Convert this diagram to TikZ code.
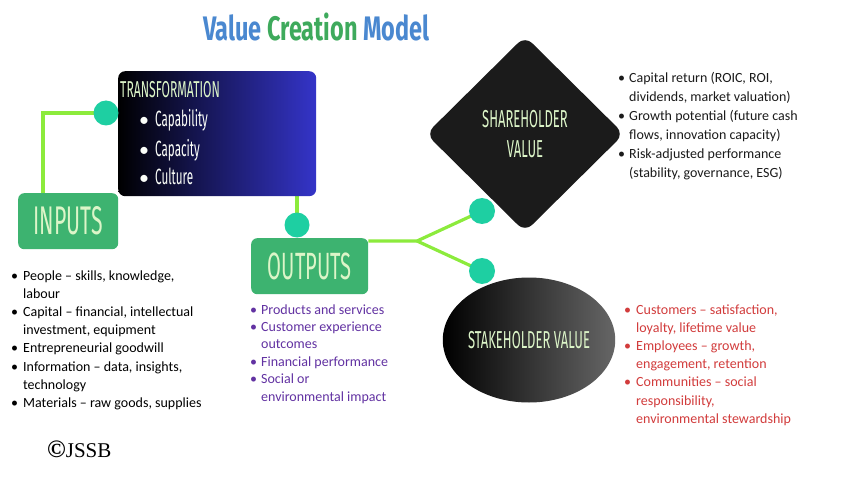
\documentclass[tikz,border=0pt]{standalone}
\usepackage{fontspec}
\setmainfont{Carlito}
\newfontfamily\dispfont[FakeStretch=0.53]{Fira Sans}
\newfontfamily\titlefont[FakeStretch=0.69]{Fira Sans}
\newfontfamily\copyfont{Liberation Serif}
\usetikzlibrary{shapes.geometric,backgrounds}
\definecolor{lnk}{HTML}{8CEB3C}
\definecolor{dot}{HTML}{1ECFA2}
\definecolor{gbox}{HTML}{3DB370}
\definecolor{ltxt}{HTML}{DCF5C8}
\definecolor{tblue}{HTML}{4A88D0}
\definecolor{tgreen}{HTML}{3EAA5C}
\definecolor{tright}{HTML}{3434C8}
\definecolor{dia}{HTML}{1B1B1B}
\definecolor{purp}{HTML}{6232A2}
\definecolor{redt}{HTML}{D23C3C}
\newlength{\bw}
\newcommand{\bu}{\makebox[\bw][l]{\textbullet}}
\newcommand{\ind}{\hspace*{\bw}}
\newcommand{\tbul}{\makebox[16pt][l]{{\normalfont\fontsize{20}{20}\selectfont\textbullet}}}
\tikzset{
  greenbox/.style={draw=none, fill=gbox, rounded corners=6pt, inner sep=0pt, text=ltxt},
  joint/.style={circle, fill=dot, inner sep=0pt, minimum size=25pt},
  link/.style={draw=lnk, line width=3.2pt},
  listtxt/.style={anchor=base west, inner sep=0pt, align=left},
  tbitem/.style={anchor=base west, inner sep=0pt, text=white!90!ltxt, font=\dispfont\fontsize{22}{22}\selectfont},
}
\begin{document}
\begin{tikzpicture}[x=1pt,y=-1pt]
\useasboundingbox (0,0) rectangle (860,484);

% title
\node[anchor=base west, inner sep=0pt, font=\titlefont\bfseries\fontsize{34}{34}\selectfont] (title) at (203,41)
  {\textcolor{tblue}{Value} \textcolor{tgreen}{Creation} \textcolor{tblue}{Model}};

% transformation box
\node[rounded corners=7pt, left color=black, right color=tright, minimum width=198pt, minimum height=125pt,
      inner sep=0pt, anchor=north west] (trans) at (118,71) {};
\node[anchor=base west, inner sep=0pt, text=ltxt, font=\dispfont\fontsize{23}{23}\selectfont] (transt) at (120,98) {TRANSFORMATION};
\node[tbitem] (tb1) at (139,127) {\tbul Capability};
\node[tbitem] (tb2) at (139,157) {\tbul Capacity};
\node[tbitem] (tb3) at (139,185) {\tbul Culture};

% inputs / outputs boxes
\node[greenbox, minimum width=100pt, minimum height=56pt, anchor=north west, font=\dispfont\fontsize{40}{40}\selectfont] (inputs) at (18,193) {INPUTS};
\node[greenbox, minimum width=117pt, minimum height=56pt, anchor=north west, font=\dispfont\fontsize{38}{38}\selectfont] (outputs) at (251,238) {OUTPUTS};

% shareholder diamond
\node[diamond, fill=dia, rounded corners=10pt, minimum width=198pt, minimum height=196pt, inner sep=0pt,
      text=ltxt, align=center, font=\dispfont\fontsize{24.5}{30}\selectfont] (share) at (525,134) {SHAREHOLDER\\VALUE};

% stakeholder ellipse
\node[ellipse, left color=black, right color=black!60, minimum width=162pt, minimum height=125pt, inner sep=0pt,
      text=ltxt, font=\dispfont\fontsize{24.5}{24.5}\selectfont] (stake) at (529,340) {STAKEHOLDER VALUE};

% joints
\node[joint] (c1) at (106,113) {};
\node[joint] (c2) at (297,225) {};
\node[joint, minimum size=26pt] (c3) at (482,211) {};
\node[joint, minimum size=26pt] (c4) at (482,271) {};
\coordinate (jn) at (417,241);

\begin{scope}[on background layer]
  \fill[white] (0,0) rectangle (860,484);
  \draw[link] (c1.center) -| ([xshift=25pt]inputs.north west);
  \draw[link] (trans.south -| c2) -- (c2.center);
  \draw[link] (outputs.north east |- jn) -- (jn) -- (c3.center);
  \draw[link] (jn) -- (c4.center);
\end{scope}

% lists
\setlength{\bw}{12pt}
\node[listtxt, font=\fontsize{14}{18.2}\selectfont] (inl) at (11,280) {\begin{tabular}[t]{@{}l@{}}
\bu People – skills, knowledge,\\
\ind labour\\
\bu Capital – financial, intellectual\\
\ind investment, equipment\\
\bu Entrepreneurial goodwill\\
\bu Information – data, insights,\\
\ind technology\\
\bu Materials – raw goods, supplies
\end{tabular}};

\node[listtxt, text=purp, font=\fontsize{14}{17.4}\selectfont] (outl) at (250,314) {\setlength{\bw}{11pt}\begin{tabular}[t]{@{}l@{}}
\bu Products and services\\
\bu Customer experience\\
\ind outcomes\\
\bu Financial performance\\
\bu Social or\\
\ind environmental impact
\end{tabular}};

\node[listtxt, text=dia, font=\fontsize{14}{19}\selectfont] (sharel) at (618,83) {\setlength{\bw}{11pt}\begin{tabular}[t]{@{}l@{}}
\bu Capital return (ROIC, ROI,\\
\ind dividends, market valuation)\\
\bu Growth potential (future cash\\
\ind flows, innovation capacity)\\
\bu Risk-adjusted performance\\
\ind (stability, governance, ESG)
\end{tabular}};

\node[listtxt, text=redt, font=\fontsize{14}{18.2}\selectfont] (stakel) at (624,314) {\setlength{\bw}{12pt}\begin{tabular}[t]{@{}l@{}}
\bu Customers – satisfaction,\\
\ind loyalty, lifetime value\\
\bu Employees – growth,\\
\ind engagement, retention\\
\bu Communities – social\\
\ind responsibility,\\
\ind environmental stewardship
\end{tabular}};

% copyright
\node[anchor=base west, inner sep=0pt, font=\copyfont\fontsize{21}{21}\selectfont] (copy) at (47,457) {{\fontsize{25}{25}\selectfont\textbf{©}}JSSB};
\end{tikzpicture}
\end{document}
